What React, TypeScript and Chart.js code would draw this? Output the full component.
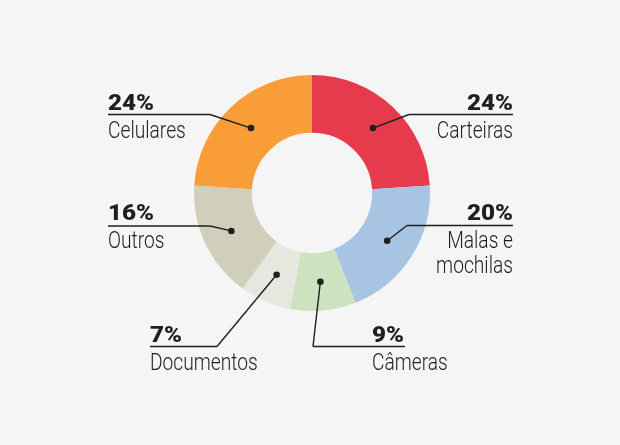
import { useEffect, useRef } from "react";
import { Chart, registerables } from "chart.js";

Chart.register(...registerables);

// Slices, clockwise from 12 o'clock
const categories = ["Carteiras", "Malas e mochilas", "Câmeras", "Documentos", "Outros", "Celulares"];
const shares = [24, 20, 9, 7, 16, 24];
const nameLines = [["Carteiras"], ["Malas e", "mochilas"], ["Câmeras"], ["Documentos"], ["Outros"], ["Celulares"]];
const sliceColors = ["#e63b4d", "#a7c4e2", "#cde2bf", "#e6e7df", "#d0cfbc", "#f89d37"];

// Callout placement for each slice: text anchor, baselines, underline and elbow
type Callout = {
  align: CanvasTextAlign;
  textX: number;
  pctY: number;
  nameY: number[];
  lineY: number;
  lineX1: number;
  lineX2: number;
  elbowX: number;
};

const callouts: Callout[] = [
  { align: "right", textX: 513, pctY: 110, nameY: [138], lineY: 114.5, lineX1: 409, lineX2: 513, elbowX: 409 },
  { align: "right", textX: 513, pctY: 220, nameY: [248, 273], lineY: 225.5, lineX1: 407, lineX2: 513, elbowX: 407 },
  { align: "left", textX: 372, pctY: 342, nameY: [370], lineY: 346.5, lineX1: 313, lineX2: 405, elbowX: 313 },
  { align: "left", textX: 150, pctY: 342, nameY: [370], lineY: 346.5, lineX1: 150, lineX2: 217, elbowX: 217 },
  { align: "left", textX: 108, pctY: 220, nameY: [248], lineY: 226, lineX1: 108, lineX2: 210, elbowX: 210 },
  { align: "left", textX: 108, pctY: 110, nameY: [138], lineY: 114.5, lineX1: 108, lineX2: 210, elbowX: 210 },
];

const INK = "#1f1f1f";
const PCT_FONT = "900 22px Roboto, 'Liberation Sans', sans-serif";
const PCT_STRETCH = 1.1;
const NAME_FONT = "300 24px Roboto, 'Liberation Sans', sans-serif";
const NAME_STRETCH = 0.8;

// condensed / expanded text by scaling horizontally around the anchor
function drawText(ctx: CanvasRenderingContext2D, text: string, x: number, y: number, sx: number) {
  ctx.save();
  ctx.translate(x, y);
  ctx.scale(sx, 1);
  ctx.fillText(text, 0, 0);
  ctx.restore();
}

const calloutPlugin = {
  id: "callouts",
  afterDatasetsDraw(chart: Chart) {
    const ctx = chart.ctx;
    const meta = chart.getDatasetMeta(0);
    ctx.save();
    meta.data.forEach((arc: any, i: number) => {
      const c = callouts[i];
      if (!c) return;
      const p = arc.tooltipPosition(true);

      // leader: dot -> elbow -> underline
      ctx.strokeStyle = INK;
      ctx.lineWidth = 1.4;
      ctx.beginPath();
      ctx.moveTo(p.x, p.y);
      ctx.lineTo(c.elbowX, c.lineY);
      ctx.stroke();
      ctx.beginPath();
      ctx.moveTo(c.lineX1, c.lineY);
      ctx.lineTo(c.lineX2, c.lineY);
      ctx.stroke();

      ctx.fillStyle = INK;
      ctx.beginPath();
      ctx.arc(p.x, p.y, 3.3, 0, Math.PI * 2);
      ctx.fill();

      ctx.textAlign = c.align;
      ctx.textBaseline = "alphabetic";
      ctx.font = PCT_FONT;
      drawText(ctx, `${shares[i]}%`, c.textX, c.pctY, PCT_STRETCH);
      ctx.font = NAME_FONT;
      nameLines[i].forEach((line, k) => drawText(ctx, line, c.textX, c.nameY[k], NAME_STRETCH));
    });
    ctx.restore();
  },
};

export default function App() {
  const canvasRef = useRef<HTMLCanvasElement | null>(null);

  useEffect(() => {
    document.body.style.margin = "0";
    document.body.style.background = "#f5f5f5";
    const canvas = canvasRef.current;
    if (!canvas) return;
    const chart = new Chart(canvas, {
      type: "doughnut",
      data: {
        labels: categories,
        datasets: [
          {
            data: shares,
            backgroundColor: sliceColors,
            borderWidth: 0,
          },
        ],
      },
      options: {
        responsive: false,
        animation: false,
        cutout: "51%",
        layout: { padding: { top: 75, bottom: 134, left: 194, right: 190 } },
        plugins: {
          legend: { display: false },
          tooltip: { enabled: false },
        },
      },
      plugins: [calloutPlugin],
    });
    return () => chart.destroy();
  }, []);

  return (
    <div style={{ width: 620, height: 445, background: "#f5f5f5" }}>
      <canvas ref={canvasRef} width={620} height={445} style={{ display: "block" }} />
    </div>
  );
}
